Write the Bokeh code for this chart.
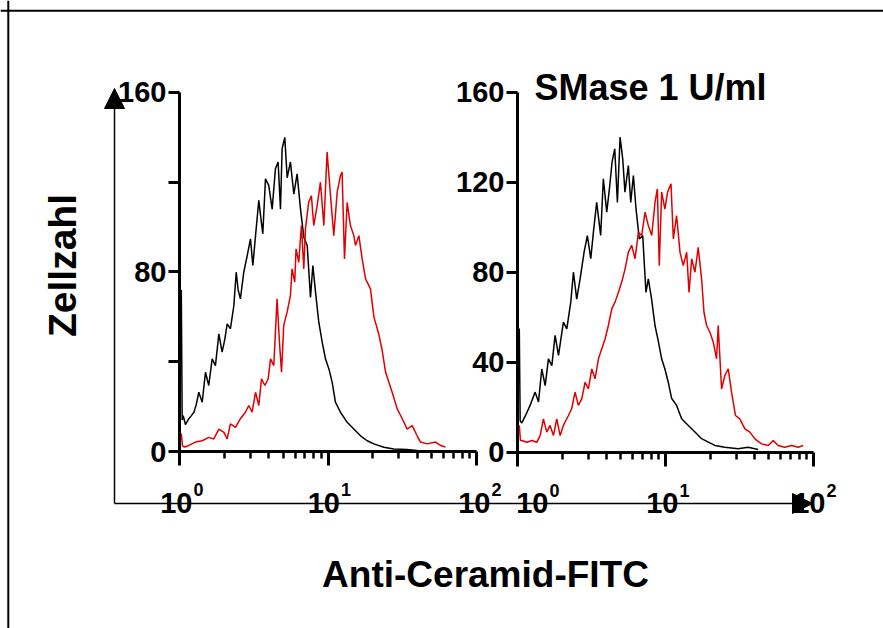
import numpy as np
from bokeh.plotting import figure
from bokeh.models import (Range1d, LogScale, LinearAxis, FixedTicker, Arrow, NormalHead,
                          Span, Label, ColumnDataSource, CustomJSTickFormatter)
from bokeh.embed import file_html
from bokeh.resources import INLINE
from bokeh.core.properties import value

# ---------------- data (log10 of FITC intensity, cell count) ----------------
P1_BLACK_LOG = [
    0.012, 0.018, 0.025, 0.040, 0.063, 0.080, 0.097, 0.113, 0.130, 0.153,
    0.175, 0.197, 0.220, 0.242, 0.265, 0.287, 0.305, 0.321, 0.343, 0.366,
    0.382, 0.395, 0.410, 0.433, 0.456, 0.478, 0.494, 0.512, 0.534, 0.548,
    0.561, 0.579, 0.601, 0.624, 0.646, 0.664, 0.680, 0.691, 0.709, 0.725,
    0.747, 0.770, 0.792, 0.815, 0.837, 0.860, 0.882, 0.898, 0.916, 0.938,
    0.961, 0.983, 1.006, 1.028, 1.050, 1.084, 1.129, 1.174, 1.219, 1.264,
    1.309, 1.376, 1.443, 1.530, 1.600]
P1_BLACK_COUNT = [
    72, 14, 16, 12, 14.6, 16, 17.5, 21, 26.4, 22,
    35.3, 29.4, 41.3, 38.3, 52.4, 44.3, 50, 56.9, 54.7, 65,
    79.9, 72, 68, 80, 87.3, 94.8, 82.9, 96.2, 111.9, 104,
    97, 121.5, 118.6, 108, 126, 129, 108, 134.9, 140, 122,
    129, 114.7, 123.7, 108, 95.5, 91.8, 68.7, 82.9, 71, 57.6,
    48.7, 41.3, 36.8, 30.9, 22, 17.5, 13, 10, 7, 4.8,
    3.4, 1.9, 1.1, 0.9, 0.4]

P1_RED_LOG = [
    0.012, 0.020, 0.034, 0.063, 0.108, 0.153, 0.197, 0.231, 0.265, 0.299,
    0.321, 0.343, 0.377, 0.410, 0.444, 0.467, 0.489, 0.512, 0.534, 0.552,
    0.575, 0.597, 0.613, 0.635, 0.646, 0.657, 0.673, 0.687, 0.702, 0.725,
    0.747, 0.758, 0.776, 0.785, 0.803, 0.821, 0.837, 0.848, 0.870, 0.888,
    0.904, 0.927, 0.949, 0.972, 0.994, 1.017, 1.039, 1.062, 1.084, 1.095,
    1.111, 1.129, 1.151, 1.174, 1.185, 1.208, 1.230, 1.253, 1.286, 1.309,
    1.343, 1.365, 1.388, 1.410, 1.432, 1.466, 1.500, 1.533, 1.567, 1.600,
    1.623, 1.668, 1.724, 1.758, 1.791]
P1_RED_COUNT = [
    8, 2.5, 2, 2.7, 4.2, 4.8, 6.3, 5.6, 10, 8.5,
    5.6, 12.3, 10.8, 14.6, 17.5, 20.5, 17.5, 26.4, 20.5, 32.4,
    29.4, 32.4, 41.3, 38.3, 53.2, 68, 48.7, 35.3, 56.3, 62.2,
    69.5, 81.4, 75.5, 90.3, 84.3, 100.7, 81.4, 99.2, 111.1, 114,
    100.7, 109.6, 120, 100.7, 133.4, 114, 96.2, 115.6, 123, 124.5,
    85.8, 111, 100.7, 96.2, 91.8, 96.2, 85.8, 76.9, 72.5, 60,
    52, 45, 35.3, 30.9, 26.4, 19, 14.6, 10, 11.5, 7,
    4.2, 3.4, 4.2, 2.7, 2]

P2_BLACK_LOG = [
    0.012, 0.018, 0.029, 0.052, 0.085, 0.119, 0.142, 0.164, 0.187, 0.209,
    0.232, 0.254, 0.277, 0.310, 0.333, 0.360, 0.378, 0.400, 0.423, 0.450,
    0.472, 0.495, 0.513, 0.535, 0.562, 0.580, 0.603, 0.621, 0.639, 0.657,
    0.675, 0.693, 0.711, 0.726, 0.749, 0.765, 0.783, 0.801, 0.823, 0.846,
    0.868, 0.884, 0.906, 0.929, 0.951, 0.974, 0.996, 1.019, 1.041, 1.075,
    1.109, 1.154, 1.199, 1.244, 1.289, 1.334, 1.401, 1.491, 1.558, 1.626]
P2_BLACK_COUNT = [
    55, 14, 13, 16, 20.8, 26.7, 22.3, 37, 29.6, 41.5,
    38.5, 51.9, 43, 57.8, 54.8, 66.7, 80, 68, 77, 88.9,
    96.3, 86, 97.8, 111, 96.3, 121.5, 106.7, 117, 129, 134.8,
    111, 140, 130.4, 115.6, 127.4, 111, 123, 108, 94.8, 96.3,
    71, 77, 68, 56.3, 49.5, 41.5, 37, 31, 24, 20.8,
    14.9, 11.9, 9, 6, 4.5, 3, 2.2, 1.5, 2.2, 1.2]

P2_RED_LOG = [
    0.012, 0.020, 0.029, 0.063, 0.097, 0.130, 0.153, 0.175, 0.198, 0.220,
    0.243, 0.265, 0.288, 0.310, 0.344, 0.366, 0.389, 0.411, 0.434, 0.457,
    0.479, 0.502, 0.524, 0.547, 0.569, 0.592, 0.614, 0.637, 0.659, 0.682,
    0.704, 0.727, 0.749, 0.772, 0.794, 0.817, 0.839, 0.862, 0.884, 0.907,
    0.929, 0.945, 0.958, 0.974, 0.996, 1.014, 1.037, 1.053, 1.075, 1.098,
    1.120, 1.143, 1.159, 1.177, 1.199, 1.221, 1.244, 1.260, 1.278, 1.300,
    1.323, 1.345, 1.356, 1.379, 1.401, 1.424, 1.446, 1.473, 1.502, 1.536,
    1.570, 1.604, 1.649, 1.694, 1.728, 1.761, 1.806, 1.851, 1.896, 1.930]
P2_RED_COUNT = [
    12, 5.2, 5.2, 4.4, 5.2, 4.4, 7.4, 14.8, 8.9, 11.9,
    7.4, 14.8, 7.4, 11.9, 16.3, 19.3, 26.7, 20.8, 23.7, 31.1,
    28.1, 37, 32.6, 41.5, 45.9, 50.4, 56.3, 63.7, 66.7, 71.1,
    75.6, 81.5, 88.9, 91.9, 86, 97.8, 96.3, 106.7, 100.7, 96.3,
    111, 117, 82.9, 115.6, 108, 115.6, 119.3, 94.8, 105.2, 88.9,
    82.9, 88.9, 71, 86, 80, 91, 77, 62.2, 56.3, 53.3,
    48.9, 41.5, 56.3, 28.1, 34.1, 37, 26.7, 16.3, 14.8, 10.4,
    8.9, 5.9, 3.7, 3, 5.2, 3, 2.2, 3, 2.2, 3]

Y_TICKS = [0, 40, 80, 120, 160]
Y_LABELLED_P1 = [0, 80, 160]
X_TICKS = [1, 10, 100]
X_MINOR = [2, 3, 4, 5, 6, 7, 8, 9, 20, 30, 40, 50, 60, 70, 80, 90]
X_TICK_BASE = ["10", "10", "10"]
X_TICK_EXP = ["0", "1", "2"]

Y_TITLE = "Zellzahl"
X_TITLE = "Anti-Ceramid-FITC"
PANEL2_TITLE = "SMase 1 U/ml"

# ---------------- layout (page pixels; the page template has no body margin) ----------------
W, H = 883, 628
LEFT, TOP = 0, 0
FONT = "Liberation Sans"
RED = "#e00000"

p = figure(width=W, height=H, x_range=Range1d(LEFT, LEFT + W), y_range=Range1d(TOP + H, TOP),
           output_backend="svg", toolbar_location=None, x_axis_type=None, y_axis_type=None,
           min_border=0)
p.outline_line_color = None
p.background_fill_color = "white"
p.border_fill_color = "white"

# panel geometry: (x of 10^0, px per decade, y of 0, px per count)
PANELS = {
    "1": (179.0, 148.5, 451.0, 2.244),
    "2": (517.0, 148.0, 451.7, 2.25),
}
xr, xs, yr = {}, {}, {}
for k, (x0, dec, y0, per) in PANELS.items():
    xr["x" + k] = Range1d(10 ** (-(x0 - LEFT) / dec), 10 ** ((LEFT + W - x0) / dec))
    xs["x" + k] = LogScale()
    yr["y" + k] = Range1d(-(TOP + H - y0) / per, (y0 - TOP) / per)
p.extra_x_ranges = xr
p.extra_x_scales = xs
p.extra_y_ranges = yr

blank = CustomJSTickFormatter(code="return ''")

label_dx = {"1": [13, 12, 14], "2": [31, 13, 12]}

for k in ["1", "2"]:
    xn, yn = "x" + k, "y" + k
    if k == "1":
        yt = FixedTicker(ticks=Y_LABELLED_P1, minor_ticks=[t for t in Y_TICKS if t not in Y_LABELLED_P1])
    else:
        yt = FixedTicker(ticks=Y_TICKS, minor_ticks=[])
    yax = LinearAxis(x_range_name=xn, y_range_name=yn, fixed_location=1, bounds=(0, 160), ticker=yt,
                     axis_line_width=3, major_tick_line_width=3, major_tick_in=0, major_tick_out=11,
                     minor_tick_in=0, minor_tick_out=11, minor_tick_line_width=3,
                     major_label_text_font=FONT, major_label_text_font_style="bold",
                     major_label_text_font_size="29px", major_label_standoff=2,
                     major_label_text_color="black")
    p.add_layout(yax, "left")
    xax = LinearAxis(x_range_name=xn, y_range_name=yn, fixed_location=0, bounds=(1, 100),
                     ticker=FixedTicker(ticks=X_TICKS, minor_ticks=X_MINOR), formatter=blank,
                     axis_line_width=3, major_tick_line_width=3, major_tick_in=0, major_tick_out=14,
                     minor_tick_in=0, minor_tick_out=7, minor_tick_line_width=2.5,
                     major_label_text_color=None)
    p.add_layout(xax, "below")

    src = ColumnDataSource(dict(x=X_TICKS, y=[0] * len(X_TICKS), base=X_TICK_BASE, exp=X_TICK_EXP,
                                dx=label_dx[k], dx2=[d + 1 for d in label_dx[k]]))
    p.text(x="x", y="y", text="base", source=src, x_range_name=xn, y_range_name=yn,
           x_offset="dx", y_offset=51, text_align="right", text_baseline="alphabetic",
           text_font=value(FONT), text_font_style="bold", text_font_size="29px", text_color="black")
    p.text(x="x", y="y", text="exp", source=src, x_range_name=xn, y_range_name=yn,
           x_offset="dx2", y_offset=38, text_align="left", text_baseline="alphabetic",
           text_font=value(FONT), text_font_style="bold", text_font_size="18px", text_color="black")

curves = [
    ("1", P1_BLACK_LOG, P1_BLACK_COUNT, "black"),
    ("1", P1_RED_LOG, P1_RED_COUNT, RED),
    ("2", P2_BLACK_LOG, P2_BLACK_COUNT, "black"),
    ("2", P2_RED_LOG, P2_RED_COUNT, RED),
]
for k, lg, cnt, col in curves:
    p.line(x=10 ** np.array(lg), y=cnt, x_range_name="x" + k, y_range_name="y" + k,
           line_color=col, line_width=1.5)

# outer frame (top and left edges visible in the picture)
p.add_layout(Span(location=7.8, dimension="height", line_color="black", line_width=2))
p.add_layout(Span(location=10.3, dimension="width", line_color="black", line_width=2))

# big axis arrows
p.add_layout(Arrow(end=NormalHead(size=20, fill_color="black", line_color="black", line_width=1),
                   x_start=114, y_start=503, x_end=114, y_end=88, line_width=1.5, line_color="black"))
p.add_layout(Arrow(end=NormalHead(size=20, fill_color="black", line_color="black", line_width=1),
                   x_start=114, y_start=503, x_end=812, y_end=503, line_width=1.5, line_color="black"))

p.add_layout(Label(x=62, y=265, text=Y_TITLE, angle=90, angle_units="deg", text_align="center",
                   text_baseline="middle", text_font=FONT, text_font_style="bold",
                   text_font_size="39px", text_color="black"))
p.add_layout(Label(x=485, y=574, text=X_TITLE, text_align="center", text_baseline="alphabetic",
                   text_font=FONT, text_font_style="bold", text_font_size="37px", text_color="black"))
p.add_layout(Label(x=650, y=87, text=PANEL2_TITLE, text_align="center", text_baseline="alphabetic",
                   text_font=FONT, text_font_style="bold", text_font_size="36px", text_color="black"))

open("out.html", "w").write(file_html(p, INLINE))
